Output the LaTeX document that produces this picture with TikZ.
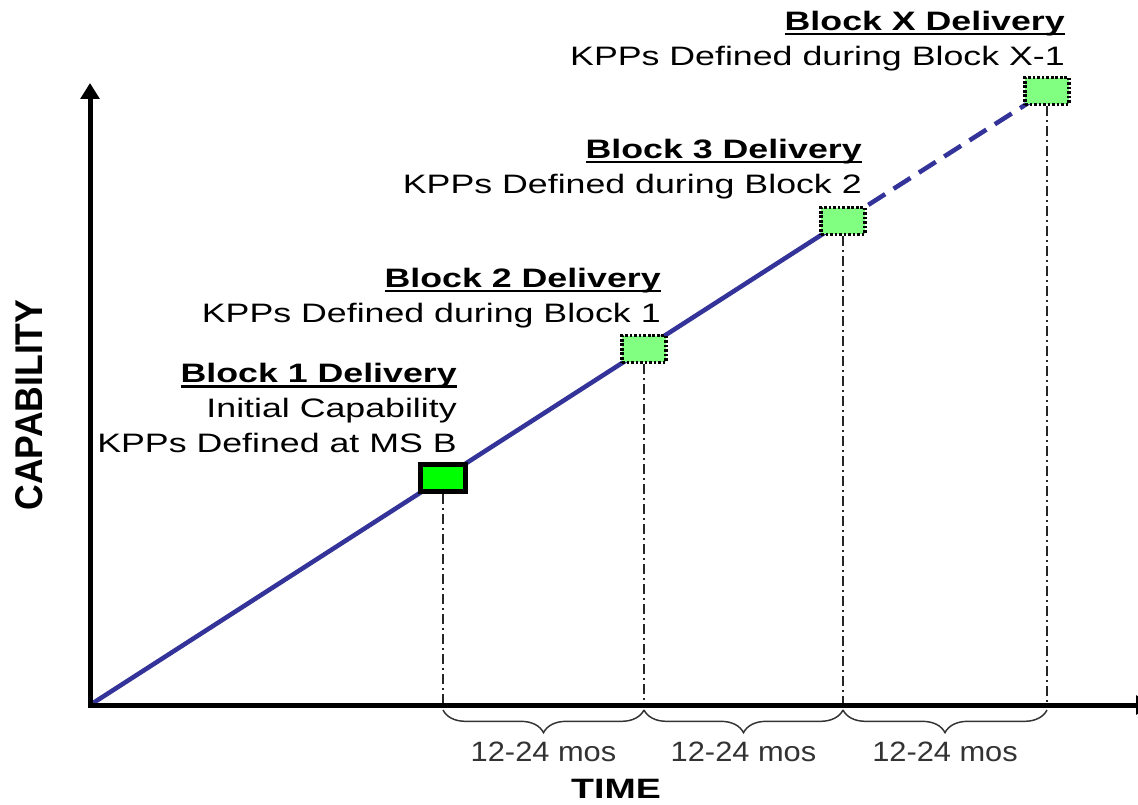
\documentclass[tikz,border=0pt]{standalone}
\usepackage{fontspec}
\setmainfont{Liberation Sans}[FakeStretch=1.34]
\newfontfamily\axisfont{Liberation Sans}[FakeStretch=0.92]
\newfontfamily\spanfont{Liberation Sans}[FakeStretch=1.1]
\usetikzlibrary{arrows.meta,backgrounds,decorations.pathreplacing}
\definecolor{cpink}{HTML}{000000}
\definecolor{cpblue}{HTML}{333399}
\definecolor{cpgreen}{HTML}{00FF00}
\definecolor{cplight}{HTML}{80FF80}
\definecolor{cpgray}{HTML}{333333}
\newcommand\blockhead[1]{\setbox0\hbox{\textbf{#1}}\rlap{\rule[-3.9pt]{\wd0}{1.7pt}}\box0}
\tikzset{
  axis/.style={draw=cpink,line width=3.75pt,line join=miter,{Triangle[width=14pt,length=12pt]}-{Triangle[width=14pt,length=12pt]}},
  growth/.style={draw=cpblue,line width=3.4pt},
  future/.style={growth,dash pattern=on 15pt off 7.5pt},
  firstblock/.style={rectangle,draw=cpink,fill=cpgreen,line width=3.75pt,minimum width=34pt,minimum height=20pt},
  laterblock/.style={rectangle,draw=cpink,fill=cplight,line width=2.5pt,dash pattern=on 2pt off 1.4pt,minimum width=33pt,minimum height=20pt},
  drop/.style={draw=cpink!85,line width=1.3pt,dash pattern=on 7.5pt off 3pt on 1.5pt off 3pt},
  span/.style={draw=cpgray,line width=1.1pt,decorate,decoration={brace,mirror,amplitude=17pt,raise=3.75pt}},
  spanlabel/.style={font=\spanfont\fontsize{21}{25}\selectfont,text=cpgray,inner sep=0pt},
  blocktext/.style={anchor=south east,align=right,inner sep=0pt,font=\fontsize{20}{26.3}\selectfont,text=cpink},
  axistitle/.style={font=\bfseries\fontsize{21}{25}\selectfont,text=cpink},
}
\begin{document}
\begin{tikzpicture}[x=0.75pt,y=0.75pt]
  \clip (-90,-99) rectangle (1048,705);
  \coordinate (o) at (0,0);
  % delivery boxes on the capability line
  \node[firstblock] (b1) at (353,227) {};
  \node[laterblock] (b2) at (554,356) {};
  \node[laterblock] (b3) at (753,484) {};
  \node[laterblock] (bx) at (957,614) {};
  \begin{scope}[on background layer]
    \draw[growth] (o) -- (b3.center);
    \draw[future] (b3.center) -- (bx.center);
  \end{scope}
  \node[blocktext] (t1) at (367,252) {\blockhead{Block 1 Delivery}\\Initial Capability\\KPPs Defined at MS B};
  \node[blocktext] (t2) at (571,377) {\blockhead{Block 2 Delivery}\\KPPs Defined during Block 1};
  \node[blocktext] (t3) at (772,506) {\blockhead{Block 3 Delivery}\\KPPs Defined during Block 2};
  \node[blocktext] (tx) at (975,634) {\blockhead{Block X Delivery}\\KPPs Defined during Block X-1};
  % time marks
  \coordinate (m1) at (b1.south |- o);
  \coordinate (m2) at (b2.south |- o);
  \coordinate (m3) at (b3.south |- o);
  \coordinate (mx) at (bx.south |- o);
  \draw[drop] (b1.south) -- (m1) (b2.south) -- (m2) (b3.south) -- (m3) (bx.south) -- (mx);
  \draw[span] (m1) -- (m2) node[spanlabel,midway,below=27.5pt] (s1) {12-24 mos};
  \draw[span] (m2) -- (m3) node[spanlabel,midway,below=27.5pt] (s2) {12-24 mos};
  \draw[span] (m3) -- (mx) node[spanlabel,midway,below=27.5pt] (s3) {12-24 mos};
  \coordinate (ytop) at (0,622);
  \coordinate (xend) at (1062,0);
  \draw[axis] (ytop) -- (o) -- (xend);
  \node[axistitle] (time) at (526,-84) {TIME};
  \node[font=\axisfont\bfseries\fontsize{29}{32}\selectfont,rotate=90] (cap) at (-61,300) {CAPABILITY};
\end{tikzpicture}
\end{document}
